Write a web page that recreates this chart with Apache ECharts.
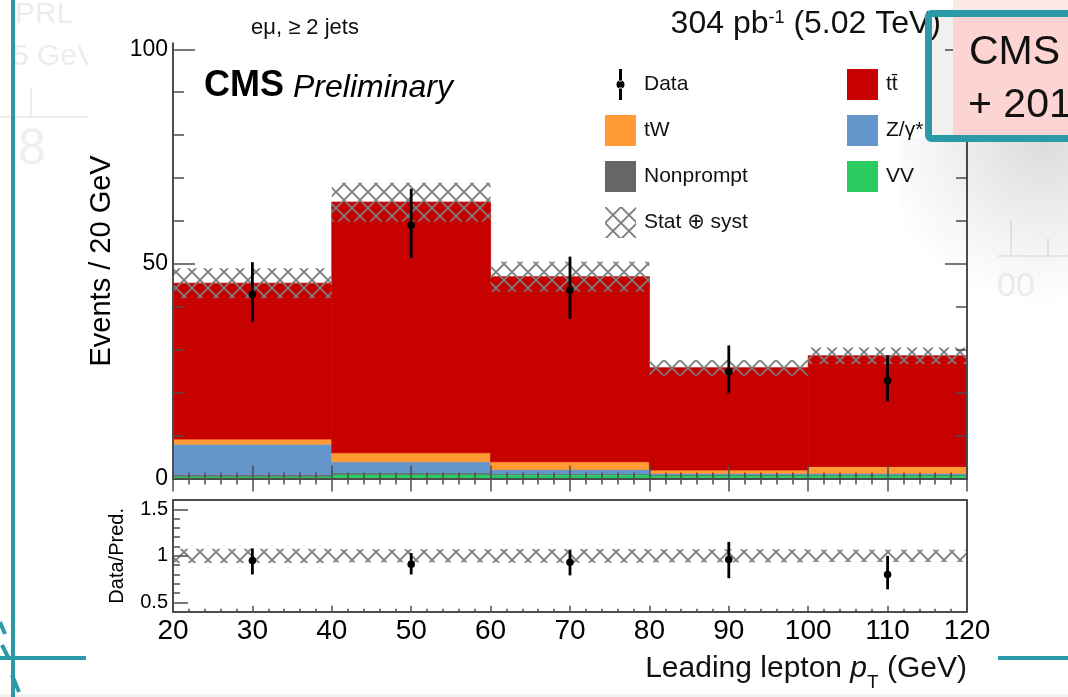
<!DOCTYPE html>
<html><head><meta charset="utf-8">
<script src="https://cdn.jsdelivr.net/npm/echarts@6/dist/echarts.min.js"></script>
<style>html,body{margin:0;padding:0;background:#fff}#c{width:1068px;height:697px}</style>
</head><body><div id="c"></div>
<script>
// ---------- data ----------
const binEdges = [20, 40, 60, 80, 100, 120];
const vv        = [0.55, 1.0, 1.0, 0.8, 0.8];
const nonprompt = [0.3, 0.3, 0.1, 0.1, 0.1];
const zgamma    = [7.15, 2.6, 1.0, 0.3, 0.3];
const tw        = [1.2, 2.1, 1.8, 0.8, 1.6];
const ttbar     = [36.3, 58.4, 43.1, 23.8, 25.8];
const systUnc   = [3.5, 4.5, 3.5, 1.8, 1.9];
const dataCounts  = [42.9, 59.0, 43.9, 24.9, 22.8];
const dataErrUp   = [7.5, 8.5, 7.8, 6.1, 5.9];
const dataErrDown = [6.5, 7.6, 6.7, 5.1, 4.8];
const ratioVal  = [0.95, 0.91, 0.93, 0.96, 0.80];
const ratioUp   = [1.08, 1.03, 1.06, 1.15, 1.00];
const ratioDown = [0.80, 0.80, 0.79, 0.76, 0.64];
const yMainLabels  = [0, 50, 100];
const yMainMinor   = [10, 20, 30, 40, 60, 70, 80, 90];
const yRatioLabels = [0.5, 1, 1.5];
const yRatioMinor  = [0.6, 0.7, 0.8, 0.9, 1.1, 1.2, 1.3, 1.4];

// ---------- helpers ----------
const FF = "'Liberation Sans', Arial, 'DejaVu Sans', sans-serif";
const AX = '#4d4d4d';
const binLo = binEdges.slice(0, -1), binHi = binEdges.slice(1);
const centers = binLo.map((l, i) => (l + binHi[i]) / 2);

function hatchCanvas(size) {
  const c = document.createElement('canvas');
  c.width = c.height = size;
  const g = c.getContext('2d');
  g.strokeStyle = '#7d7d7d'; g.lineWidth = 1.9;
  g.beginPath();
  g.moveTo(-1, -1); g.lineTo(size + 1, size + 1);
  g.moveTo(size + 1, -1); g.lineTo(-1, size + 1);
  g.stroke();
  return c;
}
const hatch = { image: hatchCanvas(16), repeat: 'repeat' };

function renderBin(params, api) {
  const a = api.coord([api.value(0), api.value(3)]);
  const b = api.coord([api.value(1), api.value(2)]);
  const col = api.visual('color');
  return { type: 'rect', shape: { x: a[0], y: a[1], width: b[0] - a[0], height: b[1] - a[1] },
           style: { fill: col, stroke: col, lineWidth: 0.8 } };
}
function renderHatch(params, api) {
  const a = api.coord([api.value(0), api.value(3)]);
  const b = api.coord([api.value(1), api.value(2)]);
  return { type: 'rect', shape: { x: a[0], y: a[1], width: b[0] - a[0], height: b[1] - a[1] },
           style: { fill: hatch } };
}
function renderPoint(params, api) {
  const c = api.coord([api.value(0), api.value(1)]);
  const lo = api.coord([api.value(0), api.value(2)]);
  const hi = api.coord([api.value(0), api.value(3)]);
  return { type: 'group', children: [
    { type: 'line', shape: { x1: c[0], y1: lo[1], x2: c[0], y2: hi[1] }, style: { stroke: '#000', lineWidth: 2.8 } },
    { type: 'circle', shape: { cx: c[0], cy: c[1], r: 3.8 }, style: { fill: '#000' } }
  ]};
}

const stackOrder = [
  ['VV', vv, '#2ccb62'],
  ['Nonprompt', nonprompt, '#666666'],
  ['Z/\u03b3*', zgamma, '#6496cb'],
  ['tW', tw, '#ff9a35'],
  ['tt\u0304', ttbar, '#c70000']
];
let base = binLo.map(() => 0);
const stackSeries = stackOrder.map(([name, vals, color]) => {
  const data = vals.map((v, i) => [binLo[i], binHi[i], base[i], base[i] + v]);
  base = base.map((b, i) => b + vals[i]);
  return { type: 'custom', name, xAxisIndex: 0, yAxisIndex: 0, renderItem: renderBin,
           itemStyle: { color }, encode: { x: [0, 1], y: [2, 3] }, data, z: 2, silent: true };
});
const total = base;

const bandMain = binLo.map((l, i) => [l, binHi[i], total[i] - systUnc[i], total[i] + systUnc[i]]);
const bandRatio = binLo.map((l, i) => [l, binHi[i], 1 - systUnc[i] / total[i], 1 + systUnc[i] / total[i]]);
const dataMain = centers.map((x, i) => [x, dataCounts[i], dataCounts[i] - dataErrDown[i], dataCounts[i] + dataErrUp[i]]);
const dataRatio = centers.map((x, i) => [x, ratioVal[i], ratioDown[i], ratioUp[i]]);

// ---------- axes ----------
const frameLine = { show: true, lineStyle: { color: AX, width: 2 } };
const tickLine = { color: AX, width: 1.5 };
function xAx(grid, pos, tickLen, minorLen, showLabels) {
  return {
    type: 'value', gridIndex: grid, position: pos, min: 20, max: 120, interval: 10, z: 10,
    axisLine: frameLine,
    axisTick: { show: tickLen > 0, inside: true, length: tickLen, lineStyle: tickLine },
    minorTick: { show: minorLen > 0, splitNumber: 5, length: minorLen, lineStyle: tickLine },
    axisLabel: { show: showLabels, fontSize: 28, color: '#000', fontFamily: FF, margin: 6 },
    splitLine: { show: false }, minorSplitLine: { show: false }
  };
}
function yAx(grid, pos, min, max, ticks, tickLen, lineShow, labels, labelSize, extra) {
  return Object.assign({
    type: 'value', gridIndex: grid, position: pos, min, max, z: 10,
    axisLine: lineShow ? frameLine : { show: false },
    axisTick: ticks ? { show: true, inside: true, length: tickLen, lineStyle: tickLine, customValues: ticks } : { show: false },
    axisLabel: labels ? { show: true, customValues: labels, fontSize: labelSize, color: '#000', fontFamily: FF, margin: 5,
                          formatter: v => String(v) } : { show: false },
    splitLine: { show: false }
  }, extra || {});
}

const option = {
  animation: false,
  backgroundColor: '#ffffff',
  grid: [
    { left: 173, width: 794, top: 43.3, height: 435.2, outerBoundsMode: 'none' },
    { left: 173, width: 794, top: 500, height: 111.7, outerBoundsMode: 'none' }
  ],
  xAxis: [
    xAx(0, 'bottom', 13, 6, false),
    xAx(0, 'top', 13, 6, false),
    xAx(1, 'bottom', 6, 3, true),
    xAx(1, 'top', 0, 0, false)
  ],
  yAxis: [
    yAx(0, 'left', 0, 101.4, yMainLabels, 22, true, yMainLabels, 23,
        { name: 'Events / 20 GeV', nameLocation: 'middle', nameRotate: 90, nameGap: 57,
          nameTextStyle: { fontSize: 29, color: '#000', fontFamily: FF } }),
    yAx(0, 'left', 0, 101.4, yMainMinor, 11, false, null),
    yAx(0, 'right', 0, 101.4, yMainLabels, 22, true, null),
    yAx(0, 'right', 0, 101.4, yMainMinor, 11, false, null),
    yAx(1, 'left', 0.4, 1.6, yRatioLabels, 15, true, yRatioLabels, 20,
        { name: 'Data/Pred.', nameLocation: 'middle', nameRotate: 90, nameGap: 46,
          nameTextStyle: { fontSize: 20, color: '#000', fontFamily: FF } }),
    yAx(1, 'left', 0.4, 1.6, yRatioMinor, 7, false, null),
    yAx(1, 'right', 0.4, 1.6, null, 0, true, null)
  ],
  legend: [
    { orient: 'vertical', left: 605, top: 69, padding: 0, itemWidth: 31, itemHeight: 31, itemGap: 15,
      selectedMode: false, icon: 'rect',
      textStyle: { fontSize: 21, color: '#111', fontFamily: FF, padding: [0, 0, 0, 3] },
      data: [
        { name: 'Data', icon: 'path://M0,0L0.01,0Z M31,31L30.99,31Z M14,0L17,0L17,12.5L14,12.5Z M14,18.5L17,18.5L17,31L14,31Z M11.5,15.5A4,4,0,1,0,19.5,15.5A4,4,0,1,0,11.5,15.5Z' },
        'tW', 'Nonprompt', 'Stat \u2295 syst'
      ] },
    { orient: 'vertical', left: 847, top: 69, padding: 0, itemWidth: 31, itemHeight: 31, itemGap: 15,
      selectedMode: false, icon: 'rect',
      textStyle: { fontSize: 21, color: '#111', fontFamily: FF, padding: [0, 0, 0, 3] },
      data: ['tt\u0304', 'Z/\u03b3*', 'VV'] }
  ],
  series: stackSeries.concat([
    { type: 'custom', name: 'Stat \u2295 syst', xAxisIndex: 0, yAxisIndex: 0, renderItem: renderHatch,
      itemStyle: { color: hatch }, encode: { x: [0, 1], y: [2, 3] }, data: bandMain, z: 3, silent: true },
    { type: 'custom', name: 'Stat \u2295 syst', xAxisIndex: 2, yAxisIndex: 4, renderItem: renderHatch,
      itemStyle: { color: hatch }, encode: { x: [0, 1], y: [2, 3] }, data: bandRatio, z: 3, silent: true },
    { type: 'custom', name: 'Data', xAxisIndex: 0, yAxisIndex: 0, renderItem: renderPoint,
      itemStyle: { color: '#000' }, encode: { x: 0, y: [1, 2, 3] }, data: dataMain, z: 4, silent: true },
    { type: 'custom', name: 'Data', xAxisIndex: 2, yAxisIndex: 4, renderItem: renderPoint,
      itemStyle: { color: '#000' }, encode: { x: 0, y: [1, 2, 3] }, data: dataRatio, z: 4, silent: true }
  ]),
  graphic: [
    // faint remnants of the slide behind
    { type: 'text', z: 0, x: 15, y: 15, style: { text: 'PRL', font: '30px ' + FF, fill: '#ececec', verticalAlign: 'middle' } },
    { type: 'text', z: 0, x: 12, y: 57, style: { text: '5 GeV', font: '30px ' + FF, fill: '#ececec', verticalAlign: 'middle' } },
    { type: 'rect', z: 0, shape: { x: 0, y: 116, width: 88, height: 2 }, style: { fill: '#ececec' } },
    { type: 'rect', z: 0, shape: { x: 30, y: 88, width: 2, height: 28 }, style: { fill: '#ececec' } },
    { type: 'text', z: 0, x: 18, y: 150, style: { text: '8', font: '50px ' + FF, fill: '#efefef', verticalAlign: 'middle' } },
    { type: 'rect', z: 1, shape: { x: 88, y: 0, width: 866, height: 694 }, style: { fill: '#ffffff' } },
    { type: 'rect', z: 0, shape: { x: 998, y: 255, width: 70, height: 2 }, style: { fill: '#ececec' } },
    { type: 'rect', z: 0, shape: { x: 1010, y: 220, width: 2, height: 36 }, style: { fill: '#ececec' } },
    { type: 'rect', z: 0, shape: { x: 1047, y: 238, width: 2, height: 18 }, style: { fill: '#ececec' } },
    { type: 'text', z: 0, x: 997, y: 287, style: { text: '00', font: '34px ' + FF, fill: '#ededed', verticalAlign: 'middle' } },
    { type: 'rect', z: 0, shape: { x: 0, y: 694, width: 1068, height: 3 }, style: { fill: '#f1f1f1' } },
    // plot texts
    { type: 'text', z: 20, x: 305, y: 28, style: { text: 'e\u03bc, \u2265 2 jets', font: '22px ' + FF, fill: '#111', align: 'center', verticalAlign: 'middle' } },
    { type: 'text', z: 20, x: 941, y: 24, style: {
        text: '{n|304 pb}{s|-1}{n| (5.02 TeV)}', align: 'right', verticalAlign: 'middle',
        rich: { n: { fontSize: 32, fontFamily: FF, fill: '#111', verticalAlign: 'bottom' },
                s: { fontSize: 18, fontFamily: FF, fill: '#111', verticalAlign: 'bottom', padding: [0, 0, 13, 0] } } } },
    { type: 'text', z: 20, x: 204, y: 86, style: {
        text: '{b|CMS}{i|Preliminary}', verticalAlign: 'middle',
        rich: { b: { fontSize: 36, fontWeight: 'bold', fontFamily: FF, fill: '#000', verticalAlign: 'bottom' },
                i: { fontSize: 32, fontStyle: 'italic', fontFamily: FF, fill: '#000', verticalAlign: 'bottom', padding: [0, 0, 0, 9] } } } },
    { type: 'text', z: 20, x: 967, y: 673, style: {
        text: '{n|Leading lepton }{i|p}{s|T}{n| (GeV)}', align: 'right', verticalAlign: 'middle',
        rich: { n: { fontSize: 30, fontFamily: FF, fill: '#111', verticalAlign: 'bottom', padding: [0, 0, 8, 0] },
                i: { fontSize: 30, fontStyle: 'italic', fontFamily: FF, fill: '#111', verticalAlign: 'bottom', padding: [0, 0, 8, 0] },
                s: { fontSize: 19, fontFamily: FF, fill: '#111', verticalAlign: 'bottom' } } } },
    // slide overlay: highlight box, its shadow and guide lines
    { type: 'rect', z: 90, shape: { x: 900, y: 138, width: 168, height: 230 },
      style: { fill: { type: 'radial', x: 0.85, y: 0, r: 1.0, colorStops: [
        { offset: 0, color: 'rgba(0,0,0,0.14)' }, { offset: 0.6, color: 'rgba(0,0,0,0.05)' }, { offset: 1, color: 'rgba(0,0,0,0)' }] } } },
    { type: 'rect', z: 90, shape: { x: 932, y: 16, width: 21, height: 120 }, style: { fill: 'rgba(0,0,0,0.06)' } },
    { type: 'rect', z: 91, shape: { x: 953, y: 0, width: 115, height: 12 }, style: { fill: '#fdeae8' } },
    { type: 'rect', z: 91, shape: { x: 953, y: 12, width: 115, height: 126 }, style: { fill: '#fcd4d1' } },
    { type: 'rect', z: 92, shape: { x: 928.5, y: 13.5, width: 150, height: 125, r: 3 },
      style: { fill: 'none', stroke: '#2a9aa8', lineWidth: 7 } },
    { type: 'text', z: 93, x: 969, y: 53, style: { text: 'CMS', font: '41px ' + FF, fill: '#111', verticalAlign: 'middle' } },
    { type: 'text', z: 93, x: 968, y: 106, style: { text: '+ 2017', font: '41px ' + FF, fill: '#111', verticalAlign: 'middle' } },
    { type: 'rect', z: 95, shape: { x: 11, y: 0, width: 4, height: 697 }, style: { fill: '#2a9aa8' } },
    { type: 'rect', z: 95, shape: { x: 0, y: 656, width: 86, height: 4 }, style: { fill: '#2a9aa8' } },
    { type: 'rect', z: 95, shape: { x: 998, y: 656, width: 70, height: 4 }, style: { fill: '#2a9aa8' } },
    { type: 'line', z: 95, shape: { x1: 0, y1: 622, x2: 5, y2: 634 }, style: { stroke: '#2a9aa8', lineWidth: 4 } },
    { type: 'line', z: 95, shape: { x1: 2, y1: 645, x2: 8, y2: 657 }, style: { stroke: '#2a9aa8', lineWidth: 4 } },
    { type: 'line', z: 95, shape: { x1: 12, y1: 675, x2: 19, y2: 692 }, style: { stroke: '#2a9aa8', lineWidth: 4 } }
  ]
};

const chart = echarts.init(document.getElementById('c'), null, { renderer: 'canvas' });
chart.setOption(option);
</script>
</body></html>
